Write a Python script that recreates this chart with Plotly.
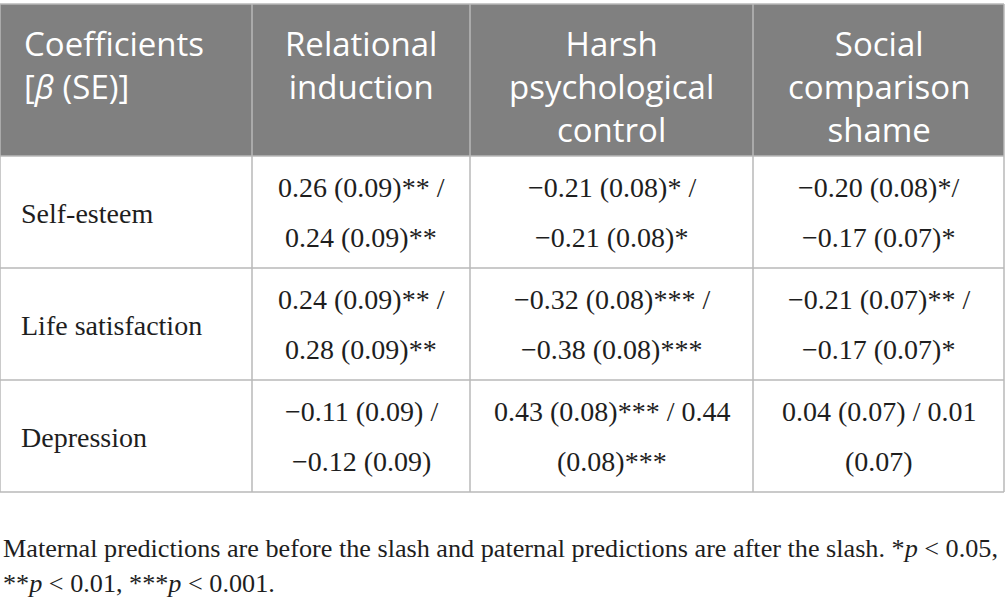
import plotly.graph_objects as go

# table content
header = ["Coefficients<br>[<i>β</i> (SE)]",
          "Relational<br>induction",
          "Harsh<br>psychological<br>control",
          "Social<br>comparison<br>shame"]
outcomes = ["Self-esteem", "Life satisfaction", "Depression"]
relational = [["0.26 (0.09)** /", "0.24 (0.09)**"],
              ["0.24 (0.09)** /", "0.28 (0.09)**"],
              ["−0.11 (0.09) /", "−0.12 (0.09)"]]
harsh = [["−0.21 (0.08)* /", "−0.21 (0.08)*"],
         ["−0.32 (0.08)*** /", "−0.38 (0.08)***"],
         ["0.43 (0.08)*** / 0.44", "(0.08)***"]]
social = [["−0.20 (0.08)*/", "−0.17 (0.07)*"],
          ["−0.21 (0.07)** /", "−0.17 (0.07)*"],
          ["0.04 (0.07) / 0.01", "(0.07)"]]
footnote = ["Maternal predictions are before the slash and paternal predictions are after the slash. *<i>p</i> < 0.05,",
            "**<i>p</i> < 0.01, ***<i>p</i> < 0.001."]

# layout (pixels)
W, H = 1005, 609
col_edges = [0, 252, 470, 753, 1004]
row_edges = [4, 156, 268, 380, 492]
line_col = "#b8b8b8"
head_fill = "#808080"
text_col = "#1e1e1e"
head_font = dict(family="Open Sans", size=33, color="white")
body_font = dict(family="Liberation Serif", size=28, color=text_col)
foot_font = dict(family="Liberation Serif", size=26.2, color=text_col)

fig = go.Figure()
shapes = []
annotations = []

# header background
shapes.append(dict(type="rect", x0=col_edges[0], x1=col_edges[-1], y0=row_edges[0], y1=row_edges[1],
                   fillcolor=head_fill, line=dict(width=0), layer="below"))
# grid lines
for y in row_edges:
    shapes.append(dict(type="line", x0=col_edges[0], x1=col_edges[-1], y0=y, y1=y,
                       line=dict(color=line_col, width=1.5)))
for x in col_edges:
    shapes.append(dict(type="line", x0=x, x1=x, y0=row_edges[0], y1=row_edges[-1],
                       line=dict(color=line_col, width=1.5)))

# header text (top aligned)
for j, t in enumerate(header):
    if j == 0:
        x, xa, al = col_edges[0] + 22, "left", "left"
    else:
        x, xa, al = (col_edges[j] + col_edges[j + 1]) / 2, "center", "center"
    annotations.append(dict(x=x, y=19, text=t, xanchor=xa, yanchor="top", align=al,
                            showarrow=False, font=head_font))

# body
columns = [relational, harsh, social]
for i, name in enumerate(outcomes):
    yc = (row_edges[i + 1] + row_edges[i + 2]) / 2
    annotations.append(dict(x=col_edges[0] + 19, y=yc + 1, text=name, xanchor="left",
                            yanchor="middle", showarrow=False, font=body_font))
    for j, col in enumerate(columns):
        xc = (col_edges[j + 1] + col_edges[j + 2]) / 2
        for k, t in enumerate(col[i]):
            annotations.append(dict(x=xc, y=yc - 25 + 50 * k, text=t, xanchor="center",
                                    yanchor="middle", showarrow=False, font=body_font))

# footnote
for k, t in enumerate(footnote):
    annotations.append(dict(x=1, y=548 + 35 * k, text=t, xanchor="left", yanchor="middle",
                            showarrow=False, font=foot_font))

fig.update_layout(width=W, height=H, margin=dict(l=0, r=0, t=0, b=0),
                  paper_bgcolor="white", plot_bgcolor="white",
                  shapes=shapes, annotations=annotations, showlegend=False)
fig.update_xaxes(range=[0, W], visible=False, fixedrange=True)
fig.update_yaxes(range=[H, 0], visible=False, fixedrange=True)

fig.write_html("out.html", config={"displayModeBar": False},
               post_script="document.body.style.margin='0px';")
